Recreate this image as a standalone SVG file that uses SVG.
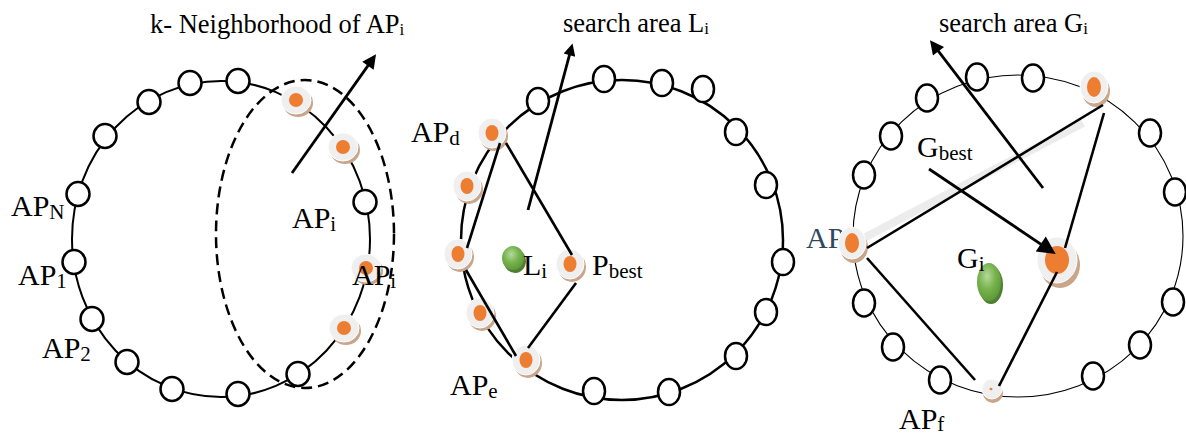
<svg xmlns="http://www.w3.org/2000/svg" width="1186" height="437" viewBox="0 0 1186 437">
  <style>
    text { font-family: "Liberation Serif", "Times New Roman", serif; fill: #000; }
    .title { font-size: 26.5px; }
    .lab { font-size: 30px; }
    .sub { font-size: 21px; }
    .tsub { font-size: 17px; }
    .ring1 { fill: none; stroke: #000; stroke-width: 2; }
    .ring2 { fill: none; stroke: #000; stroke-width: 2.5; }
    .ring3 { fill: none; stroke: #000; stroke-width: 1.1; }
    .ap { fill: #fff; stroke: #000; stroke-width: 2.5; }
    .shadow { fill: #c9a58a; }
    .rim { fill: #efefef; stroke: #fff; stroke-width: 1; }
    .core { fill: #ed7d31; }
    .edge { stroke: #000; stroke-width: 2.6; fill: none; }
    .arrow { stroke: #000; stroke-width: 2.8; fill: none; }
    .dash { fill: none; stroke: #000; stroke-width: 2.5; stroke-dasharray: 11 6; }
  </style>
  <defs>
    <marker id="head" viewBox="0 0 10 10" refX="6" refY="5" markerWidth="18" markerHeight="14" markerUnits="userSpaceOnUse" orient="auto">
      <path d="M0,0 L10,5 L0,10 Z" fill="#000"/>
    </marker>
    <marker id="headS" viewBox="0 0 10 10" refX="6" refY="5" markerWidth="16" markerHeight="12" markerUnits="userSpaceOnUse" orient="auto">
      <path d="M0,0 L10,5 L0,10 Z" fill="#000"/>
    </marker>
    <marker id="headL" viewBox="0 0 10 10" refX="6" refY="5" markerWidth="22" markerHeight="18" markerUnits="userSpaceOnUse" orient="auto">
      <path d="M0,0 L10,5 L0,10 Z" fill="#000"/>
    </marker>
    <radialGradient id="green" cx="0.42" cy="0.35" r="0.65">
      <stop offset="0" stop-color="#b5d99c"/>
      <stop offset="0.55" stop-color="#76b24c"/>
      <stop offset="1" stop-color="#5f9a3a"/>
    </radialGradient>
  </defs>

  <!-- rings -->
  <g id="rings">
    <ellipse class="ring1" cx="221" cy="239" rx="149" ry="158"/>
    <ellipse class="ring2" cx="622" cy="240" rx="161" ry="160"/>
    <ellipse class="ring3" cx="1018" cy="236" rx="165" ry="161"/>
    <ellipse class="dash" cx="305" cy="234" rx="89" ry="154"/>
  </g>

  <!-- label hidden partly behind the left node of the third ring -->
  <text id="label-ap-left" class="lab" x="806" y="248" style="fill:#2e4a5c">AP</text>

  <!-- plain access points -->
  <g id="ap-plain">
    <g id="p1-a1"><ellipse class="ap" cx="190" cy="83" rx="11.5" ry="12"/></g>
    <g id="p1-a2"><ellipse class="ap" cx="238" cy="81" rx="11.5" ry="12"/></g>
    <g id="p1-a3"><ellipse class="ap" cx="149" cy="102" rx="11.5" ry="12"/></g>
    <g id="p1-a4"><ellipse class="ap" cx="105" cy="136" rx="11.5" ry="12"/></g>
    <g id="p1-aN"><ellipse class="ap" cx="78" cy="194" rx="11.5" ry="12"/></g>
    <g id="p1-a1b"><ellipse class="ap" cx="74" cy="262" rx="11.5" ry="12"/></g>
    <g id="p1-a2b"><ellipse class="ap" cx="92" cy="319" rx="11.5" ry="12"/></g>
    <g id="p1-a5"><ellipse class="ap" cx="127" cy="362" rx="11.5" ry="12"/></g>
    <g id="p1-a6"><ellipse class="ap" cx="172" cy="389" rx="11.5" ry="12"/></g>
    <g id="p1-a7"><ellipse class="ap" cx="238" cy="394" rx="11.5" ry="12"/></g>
    <g id="p1-a8"><ellipse class="ap" cx="298" cy="374" rx="11.5" ry="12"/></g>
    <g id="p1-a9"><ellipse class="ap" cx="365" cy="202" rx="11.5" ry="12"/></g>

    <g id="p2-a1"><ellipse class="ap" cx="538" cy="101" rx="11" ry="13"/></g>
    <g id="p2-a2"><ellipse class="ap" cx="604" cy="79" rx="11" ry="13"/></g>
    <g id="p2-a3"><ellipse class="ap" cx="662" cy="83" rx="11" ry="13"/></g>
    <g id="p2-a4"><ellipse class="ap" cx="703" cy="89" rx="11" ry="13"/></g>
    <g id="p2-a5"><ellipse class="ap" cx="736" cy="132" rx="11" ry="13"/></g>
    <g id="p2-a6"><ellipse class="ap" cx="766" cy="185" rx="11" ry="13"/></g>
    <g id="p2-a7"><ellipse class="ap" cx="783" cy="262" rx="11" ry="13"/></g>
    <g id="p2-a8"><ellipse class="ap" cx="766" cy="312" rx="11" ry="13"/></g>
    <g id="p2-a9"><ellipse class="ap" cx="736" cy="356" rx="11" ry="13"/></g>
    <g id="p2-a10"><ellipse class="ap" cx="669" cy="392" rx="11" ry="13"/></g>
    <g id="p2-a11"><ellipse class="ap" cx="594" cy="391" rx="11" ry="13"/></g>

    <g id="p3-a1"><ellipse class="ap" cx="977" cy="77" rx="11" ry="13.5"/></g>
    <g id="p3-a2"><ellipse class="ap" cx="1033" cy="78" rx="11" ry="13.5"/></g>
    <g id="p3-a3"><ellipse class="ap" cx="927" cy="98" rx="11" ry="13.5"/></g>
    <g id="p3-a4"><ellipse class="ap" cx="891" cy="136" rx="11" ry="13.5"/></g>
    <g id="p3-a5"><ellipse class="ap" cx="864" cy="175" rx="11" ry="13.5"/></g>
    <g id="p3-a6"><ellipse class="ap" cx="1150" cy="133" rx="11" ry="13.5"/></g>
    <g id="p3-a7"><ellipse class="ap" cx="1175" cy="192" rx="11" ry="13.5"/></g>
    <g id="p3-a8"><ellipse class="ap" cx="1173" cy="302" rx="11" ry="13.5"/></g>
    <g id="p3-a9"><ellipse class="ap" cx="1140" cy="345" rx="11" ry="13.5"/></g>
    <g id="p3-a10"><ellipse class="ap" cx="1093" cy="376" rx="11" ry="13.5"/></g>
    <g id="p3-a11"><ellipse class="ap" cx="864" cy="303" rx="11" ry="13.5"/></g>
    <g id="p3-a12"><ellipse class="ap" cx="893" cy="347" rx="11" ry="13.5"/></g>
    <g id="p3-a13"><ellipse class="ap" cx="940" cy="380" rx="11" ry="13.5"/></g>
  </g>

  <!-- band behind the long edge of the third ring -->
  <line x1="860" y1="240" x2="1083" y2="123" stroke="#ececec" stroke-width="8"/>

  <!-- highlighted access points -->
  <g id="ap-marked">
    <g id="p1-n1"><ellipse class="shadow" cx="298" cy="103" rx="15" ry="14"/><ellipse class="rim" cx="296" cy="100" rx="15" ry="14"/><ellipse class="core" cx="296" cy="100" rx="7" ry="7"/></g>
    <g id="p1-n2"><ellipse class="shadow" cx="345" cy="150" rx="15" ry="14"/><ellipse class="rim" cx="343" cy="147" rx="15" ry="14"/><ellipse class="core" cx="343" cy="147" rx="7" ry="7"/></g>
    <g id="p1-n3"><ellipse class="shadow" cx="368" cy="271" rx="15" ry="14"/><ellipse class="rim" cx="366" cy="268" rx="15" ry="14"/><ellipse class="core" cx="366" cy="268" rx="7" ry="7"/></g>
    <g id="p1-n4"><ellipse class="shadow" cx="346" cy="331" rx="15" ry="14"/><ellipse class="rim" cx="344" cy="328" rx="15" ry="14"/><ellipse class="core" cx="344" cy="328" rx="7" ry="7"/></g>

    <g id="p2-apd"><ellipse class="shadow" cx="494" cy="136" rx="14" ry="15"/><ellipse class="rim" cx="492" cy="133" rx="14" ry="15"/><ellipse class="core" cx="492" cy="133" rx="6.5" ry="8"/></g>
    <g id="p2-n2"><ellipse class="shadow" cx="469" cy="189" rx="14" ry="15"/><ellipse class="rim" cx="467" cy="186" rx="14" ry="15"/><ellipse class="core" cx="467" cy="186" rx="6.5" ry="8"/></g>
    <g id="p2-n3"><ellipse class="shadow" cx="460" cy="257" rx="14" ry="15"/><ellipse class="rim" cx="458" cy="254" rx="14" ry="15"/><ellipse class="core" cx="458" cy="254" rx="6.5" ry="8"/></g>
    <g id="p2-n4"><ellipse class="shadow" cx="482" cy="316" rx="14" ry="15"/><ellipse class="rim" cx="480" cy="313" rx="14" ry="15"/><ellipse class="core" cx="480" cy="313" rx="6.5" ry="8"/></g>
    <g id="p2-ape"><ellipse class="shadow" cx="528" cy="363" rx="14" ry="15"/><ellipse class="rim" cx="526" cy="360" rx="14" ry="15"/><ellipse class="core" cx="526" cy="360" rx="6.5" ry="8"/></g>
    <g id="p2-pbest"><ellipse class="shadow" cx="572" cy="267" rx="14" ry="15"/><ellipse class="rim" cx="570" cy="264" rx="14" ry="15"/><ellipse class="core" cx="570" cy="264" rx="6.5" ry="8"/></g>
    <g id="p2-li"><ellipse cx="515" cy="261" rx="11" ry="12" fill="#4f7f31"/><ellipse cx="513" cy="258" rx="11" ry="12" fill="url(#green)"/></g>

    <g id="p3-top"><ellipse class="shadow" cx="1096" cy="91" rx="14" ry="16"/><ellipse class="rim" cx="1094" cy="87" rx="14" ry="16"/><ellipse class="core" cx="1094" cy="87" rx="7" ry="10"/></g>
    <g id="p3-left"><ellipse class="shadow" cx="854" cy="247" rx="14" ry="16"/><ellipse class="rim" cx="852" cy="243" rx="14" ry="16"/><ellipse class="core" cx="852" cy="243" rx="7" ry="10"/></g>
    <g id="p3-gbest"><ellipse class="shadow" cx="1060" cy="265" rx="20" ry="23"/><ellipse class="rim" cx="1057" cy="260" rx="20" ry="23"/><ellipse class="core" cx="1057" cy="260" rx="12" ry="14"/></g>
    <g id="p3-apf"><ellipse class="shadow" cx="993" cy="393" rx="10" ry="10"/><ellipse class="rim" cx="992" cy="389" rx="10" ry="10"/><ellipse class="core" cx="991" cy="389" rx="1.5" ry="1.2"/></g>
    <g id="p3-gi"><ellipse cx="991" cy="285" rx="12" ry="19" fill="#4f7f31"/><ellipse cx="989" cy="282" rx="12" ry="19" fill="url(#green)"/></g>
  </g>

  <!-- connectors -->
  <g id="connectors">
    <line class="arrow" x1="292" y1="173" x2="372.8" y2="58.9" marker-end="url(#head)"/>

    <line class="edge" x1="500" y1="143" x2="467" y2="248"/>
    <line class="edge" x1="506" y1="143" x2="572" y2="255"/>
    <line class="edge" x1="576" y1="283" x2="528" y2="348"/>
    <line class="edge" x1="466" y1="270" x2="516" y2="356"/>
    <line class="arrow" x1="528" y1="210" x2="571.3" y2="48.2" marker-end="url(#headS)"/>

    <line class="edge" x1="867" y1="248" x2="1103" y2="105"/>
    <line class="edge" x1="1104" y1="113" x2="1065" y2="248"/>
    <line class="edge" x1="1057" y1="272" x2="999" y2="386"/>
    <line class="edge" x1="867" y1="258" x2="975" y2="380"/>
    <line class="arrow" x1="1043" y1="188" x2="933.4" y2="44.7" marker-end="url(#head)"/>
    <line class="arrow" x1="929" y1="169" x2="1049.7" y2="250.1" marker-end="url(#headL)"/>
  </g>

  <!-- labels -->
  <g id="labels">
    <text class="title" x="150" y="33">k- Neighborhood of AP<tspan class="tsub" dy="2">i</tspan></text>
    <text class="lab" x="11" y="216">AP<tspan class="sub" dy="3">N</tspan></text>
    <text class="lab" x="18" y="285">AP<tspan class="sub" dy="3">1</tspan></text>
    <text class="lab" x="42" y="358">AP<tspan class="sub" dy="3">2</tspan></text>
    <text class="lab" x="292" y="228">AP<tspan class="sub" dy="3">i</tspan></text>
    <text class="lab" x="352" y="285">AP<tspan class="sub" dy="3">i</tspan></text>

    <text class="title" x="563" y="32">search area L<tspan class="tsub" dy="2">i</tspan></text>
    <text class="lab" x="411" y="142">AP<tspan class="sub" dy="3">d</tspan></text>
    <text class="lab" x="450" y="395">AP<tspan class="sub" dy="3">e</tspan></text>
    <text class="lab" x="523" y="275">L<tspan class="sub" dy="3">i</tspan></text>
    <text class="lab" x="592" y="275">P<tspan class="sub" dy="3">best</tspan></text>

    <text class="title" x="939" y="32">search area G<tspan class="tsub" dy="2">i</tspan></text>
    <text class="lab" x="917" y="157">G<tspan class="sub" dy="3">best</tspan></text>
    <text class="lab" x="957" y="268">G<tspan class="sub" dy="3">i</tspan></text>
    <text class="lab" x="899" y="429">AP<tspan class="sub" dy="2">f</tspan></text>
  </g>
</svg>
